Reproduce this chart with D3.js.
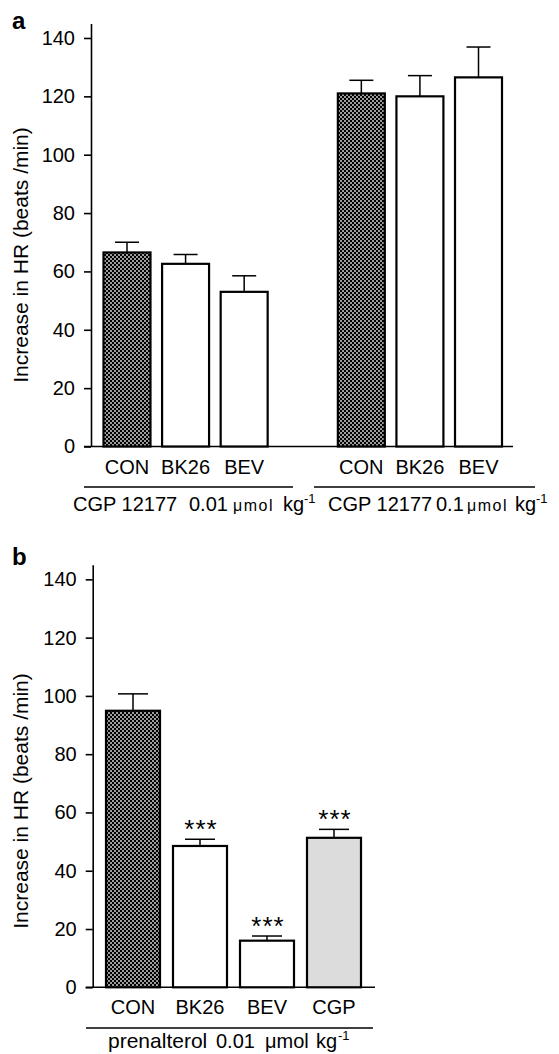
<!DOCTYPE html>
<html>
<head>
<meta charset="utf-8">
<script src="https://cdn.jsdelivr.net/npm/d3@7"></script>
<style>
  body { margin: 0; background: #fff; }
  text { font-family: "Liberation Sans", Arial, sans-serif; fill: #000; }
</style>
</head>
<body>
<div id="chart"></div>
<script>
// panel a data: CGP 12177 at two doses (slot 4 is the empty spacer)
let slotsA = ['CON1', 'BK26_1', 'BEV1', 'gap', 'CON2', 'BK26_2', 'BEV2'];
let labelsA = ['CON', 'BK26', 'BEV', '', 'CON', 'BK26', 'BEV'];
let meansA = [66.5, 62.6, 53.0, 0, 121.0, 120.0, 126.5];
let errA = [70.0, 65.8, 58.5, null, 125.5, 127.1, 136.9];
let fillA = ['hatch', 'white', 'white', 'white', 'hatch', 'white', 'white'];

// panel b data: prenalterol 0.01
let labelsB = ['CON', 'BK26', 'BEV', 'CGP'];
let meansB = [94.9, 48.5, 16.0, 51.3];
let errB = [100.7, 50.8, 17.6, 54.2];
let starsB = ['', '***', '***', '***'];
let fillB = ['hatch', 'white', 'white', 'grey'];

let yTicks = [0, 20, 40, 60, 80, 100, 120, 140];

let svg = d3.select('#chart').append('svg')
    .attr('width', 559)
    .attr('height', 1054);

// cross-hatch pattern used by CON bars
let defs = svg.append('defs');
let pat = defs.append('pattern')
    .attr('id', 'hatch')
    .attr('patternUnits', 'userSpaceOnUse')
    .attr('width', 4)
    .attr('height', 4);
pat.append('rect').attr('width', 4).attr('height', 4).attr('fill', '#000');
[[1, 1], [3, 3]].forEach(c => {
    pat.append('rect').attr('x', c[0] - 1).attr('y', c[1] - 0.5).attr('width', 2).attr('height', 1).attr('fill', '#fff').attr('opacity', 0.75);
    pat.append('rect').attr('x', c[0] - 0.5).attr('y', c[1] - 1).attr('width', 1).attr('height', 2).attr('fill', '#fff').attr('opacity', 0.75);
});

function fillOf(f) {
    if (f === 'hatch') return 'url(#hatch)';
    if (f === 'grey') return '#dcdcdc';
    return '#fff';
}

function drawPanel(opt) {
    let g = svg.append('g');

    let x = d3.scaleBand()
        .domain(opt.slots)
        .range([opt.x0, opt.x1])
        .paddingInner(opt.pad)
        .paddingOuter(0);

    let y = d3.scaleLinear()
        .domain([0, 145])
        .range([opt.yBottom, opt.yBottom - 145 * opt.k]);

    // y axis
    let axis = g.append('g')
        .attr('transform', `translate(${opt.axisX},0)`)
        .call(d3.axisLeft(y).tickValues(yTicks).tickSize(7).tickSizeOuter(0).tickPadding(9));
    axis.select('.domain').attr('stroke-width', 1.6);
    axis.selectAll('.tick line').attr('stroke-width', 1.6);
    axis.selectAll('.tick text')
        .style('font-size', '20px')
        .style('font-family', '"Liberation Sans", Arial, sans-serif');

    // baseline
    g.append('line')
        .attr('x1', opt.axisX - 7).attr('x2', opt.x1 + opt.baseExt)
        .attr('y1', y(0)).attr('y2', y(0))
        .attr('stroke', '#000').attr('stroke-width', 1.6);

    // error bars
    opt.slots.forEach((s, i) => {
        if (opt.err[i] == null) return;
        let cx = x(s) + x.bandwidth() / 2;
        g.append('line')
            .attr('x1', cx).attr('x2', cx)
            .attr('y1', y(opt.means[i])).attr('y2', y(opt.err[i]))
            .attr('stroke', '#000').attr('stroke-width', 1.5);
        g.append('line')
            .attr('x1', cx - opt.cap / 2).attr('x2', cx + opt.cap / 2)
            .attr('y1', y(opt.err[i])).attr('y2', y(opt.err[i]))
            .attr('stroke', '#000').attr('stroke-width', 1.5);
    });

    // bars
    g.selectAll('.bar')
        .data(opt.slots)
        .enter()
        .append('rect')
        .attr('x', d => x(d))
        .attr('width', x.bandwidth())
        .attr('y', (d, i) => y(opt.means[i]))
        .attr('height', (d, i) => y(0) - y(opt.means[i]))
        .attr('fill', (d, i) => fillOf(opt.fills[i]))
        .attr('stroke', '#000')
        .attr('stroke-width', 2.2);

    // category labels
    g.selectAll('.cat')
        .data(opt.slots)
        .enter()
        .append('text')
        .attr('x', d => x(d) + x.bandwidth() / 2)
        .attr('y', y(0) + 27)
        .attr('text-anchor', 'middle')
        .style('font-size', '20px')
        .text((d, i) => opt.labels[i]);

    // significance stars
    if (opt.stars) {
        opt.slots.forEach((s, i) => {
            if (!opt.stars[i]) return;
            g.append('text')
                .attr('x', x(s) + x.bandwidth() / 2 + 1)
                .attr('y', y(opt.err[i]) - 1)
                .attr('text-anchor', 'middle')
                .style('font-size', '26px')
                .style('letter-spacing', '1px')
                .text(opt.stars[i]);
        });
    }

    // y axis title
    g.append('text')
        .attr('transform', `translate(${opt.titleX},${opt.titleY}) rotate(-90)`)
        .attr('text-anchor', 'middle')
        .style('font-size', '21px')
        .text('Increase in HR (beats /min)');

    // panel letter
    g.append('text')
        .attr('x', 12)
        .attr('y', opt.letterY)
        .style('font-size', '24px')
        .style('font-weight', 'bold')
        .text(opt.letter);

    return { g: g, x: x, y: y };
}

// dose label built from pieces: [text, x, size, dy, spacing]
function doseLabel(g, y, parts) {
    let t = g.append('text').attr('y', y);
    parts.forEach(p => {
        t.append('tspan')
            .attr('x', p[1])
            .attr('y', y + (p[3] || 0))
            .style('font-size', p[2] + 'px')
            .style('letter-spacing', (p[4] || 0) + 'px')
            .text(p[0]);
    });
}

// panel a
let pa = drawPanel({
    slots: slotsA, labels: labelsA, means: meansA, err: errA, fills: fillA,
    x0: 103.5, x1: 502, pad: 0.198, baseExt: 11,
    yBottom: 446.5, k: 2.918, axisX: 91, cap: 24,
    titleX: 28, titleY: 255, letter: 'a', letterY: 29
});

// dose groups under panel a
let groupLines = [[84, 293], [314, 535]];
groupLines.forEach(l => {
    pa.g.append('line')
        .attr('x1', l[0]).attr('x2', l[1])
        .attr('y1', 487).attr('y2', 487)
        .attr('stroke', '#000').attr('stroke-width', 1.5);
});
doseLabel(pa.g, 511, [
    ['CGP 12177', 73, 20], ['0.01', 189, 20], ['\u03bcmol', 233, 16, 0, 1.5],
    ['kg', 283, 20], ['-1', 304, 13, -8]
]);
doseLabel(pa.g, 511, [
    ['CGP 12177', 328, 20], ['0.1', 436, 20], ['\u03bcmol', 467, 16, 0, 1.5],
    ['kg', 515, 20], ['-1', 536, 13, -8]
]);

// panel b
let pb = drawPanel({
    slots: labelsB, labels: labelsB, means: meansB, err: errB, fills: fillB, stars: starsB,
    x0: 106, x1: 361, pad: 0.194, baseExt: 14,
    yBottom: 987.3, k: 2.914, axisX: 92.7, cap: 30,
    titleX: 28, titleY: 801, letter: 'b', letterY: 565
});

pb.g.append('line')
    .attr('x1', 86).attr('x2', 373)
    .attr('y1', 1028).attr('y2', 1028)
    .attr('stroke', '#000').attr('stroke-width', 1.5);
doseLabel(pb.g, 1048, [
    ['prenalterol', 108, 21], ['0.01', 216, 20], ['\u03bcmol', 265, 20],
    ['kg', 316, 20], ['-1', 338, 13, -8]
]);
</script>
</body>
</html>
